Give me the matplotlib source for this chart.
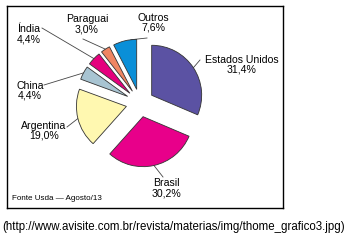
import numpy as np
import matplotlib
matplotlib.use("Agg")
from matplotlib import pyplot as plt

plt.rcParams["font.family"] = ["Liberation Sans", "DejaVu Sans"]

# dados do grafico (Fonte Usda - Agosto/13)
paises = ["Estados Unidos", "Brasil", "Argentina", "China", "Índia", "Paraguai", "Outros"]
valores = [31.4, 30.2, 19.0, 4.4, 4.4, 3.0, 7.6]
rotulos = ["31,4%", "30,2%", "19,0%", "4,4%", "4,4%", "3,0%", "7,6%"]

cores = ["#5B52A3", "#E8008A", "#FFF8B0", "#A8C4D2", "#E5007D", "#F08562", "#0A8FD8"]

W, H = 346, 242
fig = plt.figure(figsize=(W / 100, H / 100), dpi=100)

# caixa do grafico em pixels
bx0, by0, bx1, by1 = 7, 6, 283, 208
ax = fig.add_axes([bx0 / W, 1 - by1 / H, (bx1 - bx0) / W, (by1 - by0) / H])

cx, cy, raio = 140 - bx0, by1 - 103, 50
# explode do matplotlib e em unidades de dados (pixels aqui)
wedges, _ = ax.pie(
    valores,
    colors=cores,
    startangle=90,
    counterclock=False,
    center=(cx, cy),
    radius=raio,
    explode=[14] * len(valores),
    wedgeprops=dict(edgecolor="#333333", linewidth=0.6, zorder=3),
    frame=True,
)
ax.set_xlim(0, bx1 - bx0)
ax.set_ylim(0, by1 - by0)
ax.set_aspect("equal")
ax.set_xticks([])
ax.set_yticks([])
for s in ax.spines.values():
    s.set_linewidth(1.0)
    s.set_color("black")

# posicao dos textos (pixels da figura) e ponto de ligacao
pos_txt = [(242, 65), (166, 188), (44, 131), (30, 91), (29, 34), (87, 24), (153, 23)]
ancora = [(200, 60), (163, 177), (67, 127), (44, 85), (42, 28), (83, 39), (147, 38)]
ang_aj = [0, 0, 0, 0, 0, 0, -7]

for w, nome, rot, (tx, ty), (lx, ly), da in zip(wedges, paises, rotulos, pos_txt, ancora, ang_aj):
    ang = np.deg2rad((w.theta1 + w.theta2) / 2 + da)
    px = w.center[0] + w.r * np.cos(ang)
    py = w.center[1] + w.r * np.sin(ang)
    ax.text(tx - bx0, by1 - ty, nome + "\n" + rot, ha="center", va="center",
            fontsize=7.6, linespacing=1.0)
    ax.plot([lx - bx0, px], [by1 - ly, py], color="#444444", lw=0.6, zorder=2)

ax.text(12 - bx0, by1 - 199, "Fonte Usda \u2014 Agosto/13", fontsize=5.8, va="center", ha="left")

fig.text(174 / W, 1 - 227 / H, "(http://www.avisite.com.br/revista/materias/img/thome_grafico3.jpg)",
         ha="center", va="center", fontsize=8.3)

fig.savefig("out.png", dpi=100)
